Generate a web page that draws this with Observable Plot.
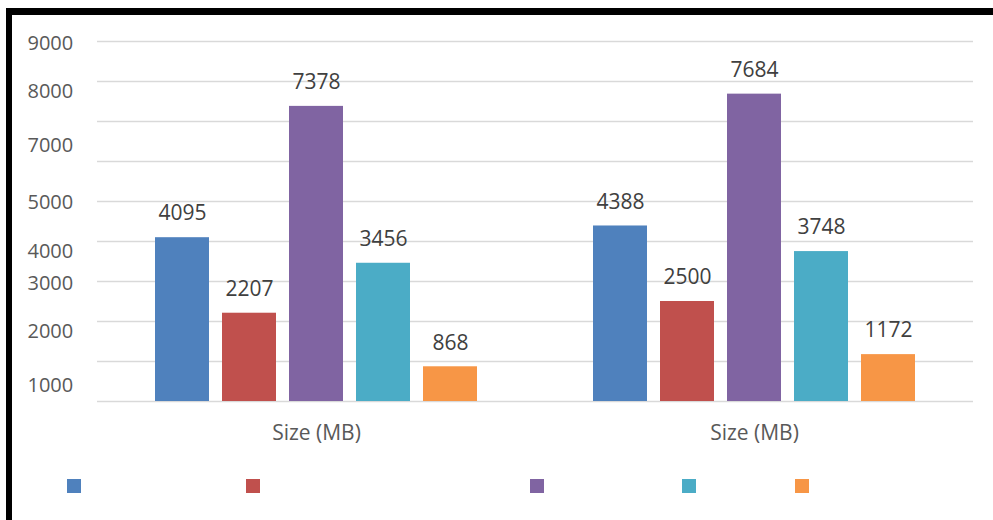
<!DOCTYPE html>
<html>
<head>
<meta charset="utf-8">
<script src="https://cdn.jsdelivr.net/npm/d3@7"></script>
<script src="https://cdn.jsdelivr.net/npm/@observablehq/plot@0.6"></script>
<style>
  html, body { margin: 0; padding: 0; background: #fff; }
  #wrap { position: relative; width: 993px; height: 520px; overflow: hidden; font-family: "Open Sans", sans-serif; }
  #chart svg { display: block; }
  #legend { position: relative; width: 993px; height: 60px; }
  #legend .sw { position: absolute; top: 19px; width: 14px; height: 14px; }
  #frame { position: absolute; left: 6px; top: 8px; right: -10px; bottom: -10px;
           border-left: 6px solid #000; border-top: 7px solid #000; pointer-events: none; }
</style>
</head>
<body>
<div id="wrap">
  <div id="chart"></div>
  <div id="legend"></div>
  <div id="frame"></div>
</div>
<script>
const groups = ["g1", "g2"];
const groupLabels = ["Size (MB)", "Size (MB)"];
const series = ["Series 1", "Series 2", "Series 3", "Series 4", "Series 5"];
const valuesGroup1 = [4095, 2207, 7378, 3456, 868];
const valuesGroup2 = [4388, 2500, 7684, 3748, 1172];
const colors = ["#4F81BD", "#C0504D", "#8064A2", "#4BACC6", "#F79646"];
const gridValues = [0, 1000, 2000, 3000, 4000, 5000, 6000, 7000, 8000, 9000];
const yTickPositions = [8942, 7742, 6393, 4968, 3743, 2943, 1743, 393];
const yTickLabels = ["9000", "8000", "7000", "5000", "4000", "3000", "2000", "1000"];
const legendOffsets = [67, 246, 530, 682, 795];

const data = [];
[valuesGroup1, valuesGroup2].forEach((vals, gi) => {
  vals.forEach((v, si) => data.push({group: groups[gi], series: series[si], value: v}));
});

const chart = Plot.plot({
  width: 993,
  height: 460,
  marginLeft: 97,
  marginRight: 20,
  marginTop: 41,
  marginBottom: 59,
  style: {fontFamily: "'Open Sans', sans-serif", background: "transparent", overflow: "visible"},
  fx: {domain: groups, padding: 0, label: null},
  x: {domain: series, paddingInner: 0.2, paddingOuter: 0.86, axis: null},
  y: {domain: [0, 9000], label: null},
  color: {domain: series, range: colors},
  marks: [
    Plot.gridY(gridValues, {stroke: "#d9d9d9", strokeOpacity: 1, strokeWidth: 1.5}),
    Plot.barY(data, {fx: "group", x: "series", y: "value", fill: "series"}),
    Plot.text(data, {fx: "group", x: "series", y: "value", text: d => String(d.value),
      dy: -24, fontSize: 21, fill: "#404040"}),
    Plot.axisY({ticks: yTickPositions, tickFormat: d => yTickLabels[yTickPositions.indexOf(d)],
      tickSize: 0, tickPadding: 0, textAnchor: "start", dx: -70, fontSize: 20,
      color: "#595959", label: null}),
    Plot.axisFx({anchor: "bottom", tickFormat: d => groupLabels[groups.indexOf(d)], tickSize: 0, tickPadding: 24,
      fontSize: 21, color: "#595959", label: null})
  ]
});
document.getElementById("chart").appendChild(chart);

const legend = document.getElementById("legend");
series.forEach((s, i) => {
  const sw = document.createElement("div");
  sw.className = "sw";
  sw.style.left = legendOffsets[i] + "px";
  sw.style.background = colors[i];
  sw.title = s;
  legend.appendChild(sw);
});
</script>
</body>
</html>
